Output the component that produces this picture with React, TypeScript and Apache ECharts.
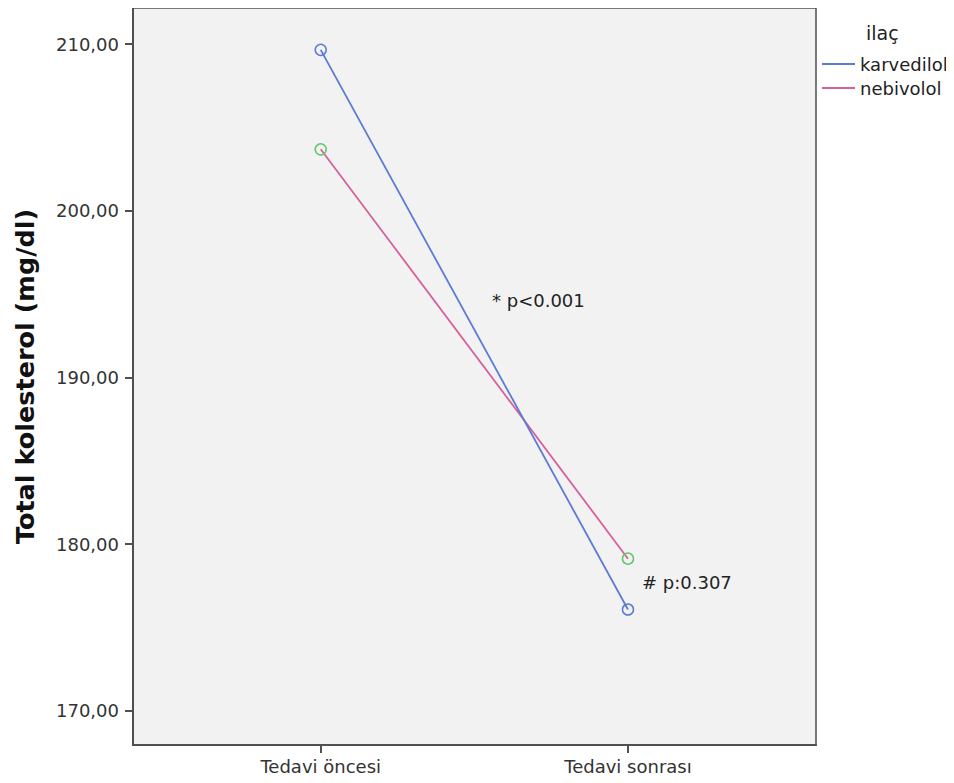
import React, { useEffect, useRef } from "react";
import * as echarts from "echarts";

const categories = ["Tedavi öncesi", "Tedavi sonrası"];
const karvedilol = [209.65, 176.07];
const nebivolol = [203.68, 179.12];
const yTicks = [170, 180, 190, 200, 210];
const seriesNames = ["karvedilol", "nebivolol"];
const annotations = ["* p<0.001", "# p:0.307"];

const FONT = "'DejaVu Sans', 'Noto Sans', sans-serif";

export default function App() {
  const ref = useRef<HTMLDivElement>(null);
  useEffect(() => {
    const chart = echarts.init(ref.current!, null, { renderer: "svg" });
    const blue = "#5b7bd5";
    const pink = "#d6609b";
    const green = "#5fc86a";
    const axisColor = "#505050";
    chart.setOption({
      animation: false,
      grid: {
        left: 133,
        right: 138,
        top: 8,
        bottom: 38,
        show: true,
        backgroundColor: "#f2f2f2",
        borderColor: axisColor,
        borderWidth: 1.5,
      },
      xAxis: {
        type: "value",
        min: -0.611,
        max: 1.612,
        splitLine: { show: false },
        axisLine: { show: true, onZero: false, lineStyle: { color: axisColor, width: 2 } },
        axisTick: { show: true, customValues: [0, 1], length: 8, lineStyle: { color: axisColor, width: 2 } },
        axisLabel: {
          customValues: [0, 1],
          formatter: (v: number) => categories[Math.round(v)] ?? "",
          color: "#333",
          fontSize: 18,
          fontFamily: FONT,
          margin: 12,
        },
      },
      yAxis: {
        type: "value",
        min: 167.94,
        max: 212.16,
        splitLine: { show: false },
        axisLine: { show: true, onZero: false, lineStyle: { color: axisColor, width: 2 } },
        axisTick: { show: true, customValues: yTicks, length: 8, lineStyle: { color: axisColor, width: 2 } },
        axisLabel: {
          customValues: yTicks,
          formatter: (v: number) => v.toFixed(2).replace(".", ","),
          color: "#333",
          fontSize: 18,
          fontFamily: FONT,
          margin: 14,
        },
        name: "Total kolesterol (mg/dl)",
        nameLocation: "middle",
        nameGap: 95,
        nameTextStyle: { fontSize: 25.5, fontWeight: "bold", color: "#111", fontFamily: FONT },
      },
      series: [
        {
          name: seriesNames[0],
          type: "line",
          data: karvedilol.map((v, i) => [i, v]),
          lineStyle: { color: blue, width: 1.8 },
          itemStyle: { color: "rgba(0,0,0,0)", borderColor: blue, borderWidth: 1.5 },
          symbol: "circle",
          symbolSize: 11,
          z: 3,
        },
        {
          name: seriesNames[1],
          type: "line",
          data: nebivolol.map((v, i) => [i, v]),
          lineStyle: { color: pink, width: 1.8 },
          itemStyle: { color: "rgba(0,0,0,0)", borderColor: green, borderWidth: 1.5 },
          symbol: "circle",
          symbolSize: 11,
          z: 2,
        },
      ],
      graphic: [
        { type: "text", x: 866, y: 33, style: { text: "ilaç", fill: "#222", font: `19px ${FONT}`, verticalAlign: "middle" } },
        { type: "line", shape: { x1: 822, y1: 64, x2: 855, y2: 64 }, style: { stroke: blue, lineWidth: 1.8 } },
        { type: "text", x: 860, y: 64, style: { text: seriesNames[0], fill: "#222", font: `18px ${FONT}`, verticalAlign: "middle" } },
        { type: "line", shape: { x1: 822, y1: 88, x2: 855, y2: 88 }, style: { stroke: pink, lineWidth: 1.8 } },
        { type: "text", x: 860, y: 88, style: { text: seriesNames[1], fill: "#222", font: `18px ${FONT}`, verticalAlign: "middle" } },
        { type: "text", x: 492, y: 300, style: { text: annotations[0], fill: "#222", font: `18px ${FONT}`, verticalAlign: "middle" } },
        { type: "text", x: 642, y: 582, style: { text: annotations[1], fill: "#222", font: `18px ${FONT}`, verticalAlign: "middle" } },
      ],
    });
    return () => chart.dispose();
  }, []);
  return <div ref={ref} style={{ width: 954, height: 783, margin: -8 }} />;
}
